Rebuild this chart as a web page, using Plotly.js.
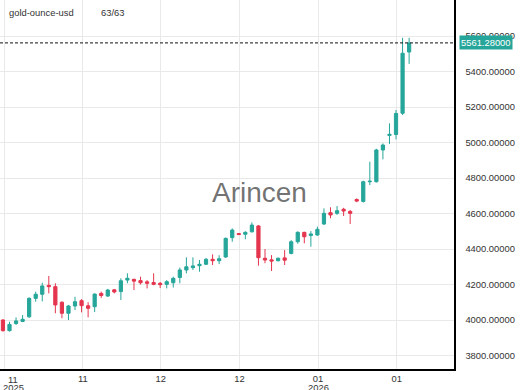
<!DOCTYPE html>
<html>
<head>
<meta charset="utf-8">
<script src="https://cdn.plot.ly/plotly-3.0.1.min.js"></script>
<style>html,body{margin:0;padding:0;background:#fff;}#chart{width:520px;height:390px;}</style>
</head>
<body>
<div id="chart"></div>
<script>
const seriesName = "gold-ounce-usd";
const countLabel = "63/63";
const watermark = "Arincen";
const lastPrice = 5561.28;

const openVals  = [4000,3940,3980,3992,4018,4122,4145,4195,4188,4100,4038,4079,4109,4080,4075,4150,4135,4170,4160,4225,4229,4222,4215,4211,4207,4201,4210,4240,4282,4295,4306,4314,4342,4334,4355,4464,4487,4483,4497,4530,4348,4339,4334,4350,4375,4441,4494,4476,4479,4541,4605,4601,4624,4612,4679,4668,4779,4779,4958,5040,5045,5165,5510];
const highVals  = [4005,3990,4015,4028,4128,4160,4210,4248,4207,4105,4085,4131,4118,4100,4150,4160,4175,4175,4235,4263,4233,4244,4225,4263,4214,4225,4244,4295,4353,4353,4338,4350,4370,4365,4465,4516,4490,4500,4550,4535,4400,4366,4352,4394,4450,4500,4497,4501,4526,4629,4635,4642,4632,4620,4685,4785,4892,4965,4995,5108,5183,5590,5590];
const lowVals   = [3935,3935,3972,3988,4012,4103,4105,4150,4038,4010,4000,4056,4043,4015,4045,4125,4130,4150,4113,4207,4169,4200,4178,4196,4180,4178,4183,4207,4263,4282,4272,4310,4310,4315,4350,4441,4478,4455,4493,4306,4320,4276,4330,4310,4370,4430,4432,4413,4475,4535,4573,4592,4586,4541,4664,4662,4760,4775,4905,4992,5018,5155,5443];
const closeVals = [3940,3975,3995,4004,4122,4145,4192,4188,4085,4038,4079,4103,4081,4066,4146,4138,4169,4158,4221,4235,4219,4210,4207,4201,4199,4216,4235,4282,4300,4305,4314,4342,4334,4345,4460,4507,4482,4494,4535,4351,4338,4332,4348,4337,4441,4494,4469,4485,4511,4601,4592,4616,4614,4601,4670,4779,4782,4958,4986,5046,5164,5503,5561.28];

const xTickPos  = [0.2, 12.2, 24.1, 36.1, 48.1, 60.1];
const xTickText = ["", "11", "12", "12", "01", "01"];
const firstMonth = "11";
const yearLabels = ["2025", "2026"];
const yTickVals = [3800,4000,4200,4400,4600,4800,5000,5200,5400,5600];

const idx = openVals.map((_, i) => i);
const green = "#26a69a", red = "#e5354e";
const font = "Liberation Sans, Arial, sans-serif";
const txt = {family: font, size: 9.4, color: "#333"};

const trace = {
  type: "candlestick",
  x: idx, open: openVals, high: highVals, low: lowVals, close: closeVals,
  increasing: {line: {color: green, width: 1}, fillcolor: green},
  decreasing: {line: {color: red, width: 1}, fillcolor: red},
  whiskerwidth: 0,
  hoverinfo: "skip"
};

const layout = {
  width: 520, height: 390,
  margin: {l: 0, r: 66, t: 0, b: 21, pad: 0},
  paper_bgcolor: "#fff", plot_bgcolor: "#fff",
  showlegend: false,
  font: txt,
  boxgap: 0.3,
  xaxis: {
    range: [-0.45, 68.85], fixedrange: true,
    rangeslider: {visible: false},
    tickmode: "array", tickvals: xTickPos, ticktext: xTickText,
    showgrid: true, gridcolor: "#e9e9e9", gridwidth: 1,
    showline: true, linecolor: "#000", linewidth: 1.5,
    ticks: "", ticklabelstandoff: 0, zeroline: false,
    tickfont: txt
  },
  yaxis: {
    side: "right", range: [3724, 5803], fixedrange: true,
    tickmode: "array", tickvals: yTickVals, tickformat: ".5f",
    showgrid: true, gridcolor: "#e9e9e9", gridwidth: 1,
    showline: true, linecolor: "#000", linewidth: 1.5,
    ticks: "", ticklabelstandoff: 8, zeroline: false,
    tickfont: txt
  },
  shapes: [{
    type: "line", xref: "paper", x0: 0, x1: 1, yref: "y", y0: lastPrice, y1: lastPrice,
    line: {color: "#111", width: 1, dash: "3px,2px"}
  }],
  annotations: [
    {text: seriesName, xref: "paper", yref: "paper", x: 0, y: 1, xanchor: "left", yanchor: "top",
     xshift: 7, yshift: -5, showarrow: false, font: txt},
    {text: countLabel, xref: "paper", yref: "paper", x: 0, y: 1, xanchor: "left", yanchor: "top",
     xshift: 99, yshift: -5, showarrow: false, font: txt},
    {text: watermark, xref: "x", yref: "y", x: 39.2, y: 4800, xanchor: "center", yanchor: "middle",
     yshift: -14, showarrow: false, font: {family: font, size: 28, color: "rgba(90,90,90,0.85)"}},
    {text: lastPrice.toFixed(5), xref: "paper", yref: "y", x: 1, y: lastPrice, xanchor: "left", yanchor: "middle",
     xshift: 5, showarrow: false, bgcolor: green, borderpad: 1,
     font: {family: font, size: 9.4, color: "#fff"}},
    {text: firstMonth, xref: "paper", yref: "paper", x: 0, y: 0, xanchor: "center", yanchor: "middle",
     xshift: 13, yshift: -10, borderpad: 0, showarrow: false, font: txt},
    {text: yearLabels[0], xref: "paper", yref: "paper", x: 0, y: 0, xanchor: "center", yanchor: "middle",
     xshift: 13, yshift: -18, borderpad: 0, showarrow: false, font: txt},
    {text: yearLabels[1], xref: "x", yref: "paper", x: xTickPos[4], y: 0, xanchor: "center", yanchor: "middle",
     yshift: -18, borderpad: 0, showarrow: false, font: txt}
  ]
};

Plotly.newPlot("chart", [trace], layout, {staticPlot: true, displayModeBar: false});
</script>
</body>
</html>
